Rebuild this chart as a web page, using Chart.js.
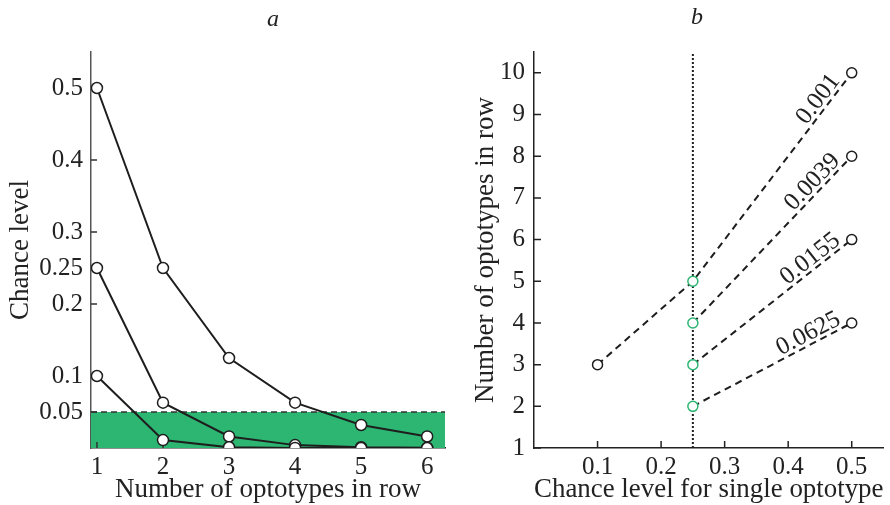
<!DOCTYPE html>
<html lang="en">
<head>
<meta charset="UTF-8" />
<script src="https://cdn.jsdelivr.net/npm/chart.js@4"></script>
<style>
  body { margin: 0; background: #fff; }
  .painel { position: absolute; top: 0; height: 505px; }
  #pa { left: 0; width: 460px; }
  #pb { left: 460px; width: 430px; }
</style>
</head>
<body>
<div class="painel" id="pa"><canvas id="grafA"></canvas></div>
<div class="painel" id="pb"><canvas id="grafB"></canvas></div>
<script>
// ---- painel a: chance level x number of optotypes ----
const optotipos = [1, 2, 3, 4, 5, 6];
const chance05 = [0.5, 0.25, 0.125, 0.063, 0.032, 0.016];
const chance025 = [0.25, 0.063, 0.016, 0.004, 0.001, 0.0002];
const chance01 = [0.1, 0.011, 0.001, 0.0001, 0, 0];
const limiar = 0.05;
const ticksAX = [1, 2, 3, 4, 5, 6];
const ticksAY = [0.05, 0.1, 0.2, 0.25, 0.3, 0.4, 0.5];
const limitesAX = [0.91, 6.27];
const limitesAY = [0, 0.55];

// ---- painel b: number of optotypes x chance level ----
const xs0001 = [0.1, 0.25, 0.5];
const ys0001 = [3, 5, 10];
const xsPar = [0.25, 0.5];
const ys0039 = [4, 8];
const ys0155 = [3, 6];
const ys0625 = [2, 4];
const rotulosB = ["0.001", "0.0039", "0.0155", "0.0625"];
const chanceUnica = 0.25;
const ticksBX = [0.1, 0.2, 0.3, 0.4, 0.5];
const ticksBY = [1, 2, 3, 4, 5, 6, 7, 8, 9, 10];
const limitesBX = [0, 0.55];
const limitesBY = [1, 10.5];

const verde = "#2db572";
const preto = "#1e1e1e";

Chart.defaults.font.family = "'Liberation Serif', 'Times New Roman', serif";
Chart.defaults.color = "#222";
Chart.defaults.animation = false;

const pares = (xs, ys) => xs.map((x, i) => ({ x: x, y: ys[i] }));

// marcas de eixo para dentro da area do grafico
const marcasInternas = {
  id: "marcasInternas",
  desenha(chart, opts) {
    const { ctx, chartArea } = chart;
    const sx = chart.scales.x, sy = chart.scales.y;
    ctx.save();
    ctx.strokeStyle = opts.cor;
    ctx.lineWidth = 1.5;
    ctx.beginPath();
    sx.ticks.forEach((t) => {
      const p = sx.getPixelForValue(t.value);
      ctx.moveTo(p, chartArea.bottom);
      ctx.lineTo(p, chartArea.bottom - opts.tam);
    });
    sy.ticks.forEach((t) => {
      const p = sy.getPixelForValue(t.value);
      ctx.moveTo(chartArea.left, p);
      ctx.lineTo(chartArea.left + opts.tam, p);
    });
    ctx.stroke();
    ctx.restore();
  },
  afterDatasetDraw(chart, args, opts) {
    if (opts.aposDataset === args.index) this.desenha(chart, opts);
  },
  beforeDatasetsDraw(chart, args, opts) {
    if (opts.aposDataset == null) this.desenha(chart, opts);
  },
};

// letra do painel (a / b)
const letraPainel = {
  id: "letraPainel",
  afterDraw(chart, args, opts) {
    const ctx = chart.ctx;
    ctx.save();
    ctx.font = "italic 24px 'Liberation Serif', serif";
    ctx.fillStyle = "#222";
    ctx.textAlign = "center";
    ctx.textBaseline = "middle";
    ctx.fillText(opts.texto, opts.x, opts.y);
    ctx.restore();
  },
};

// rotulos inclinados ao longo das linhas tracejadas
const rotulosLinhas = {
  id: "rotulosLinhas",
  afterDatasetsDraw(chart) {
    const ctx = chart.ctx;
    chart.data.datasets.forEach((ds, i) => {
      if (!ds.rotulo) return;
      const pts = chart.getDatasetMeta(i).data;
      const a = pts[pts.length - 2], b = pts[pts.length - 1];
      const ang = Math.atan2(b.y - a.y, b.x - a.x);
      const t = 0.95;
      const px = a.x + (b.x - a.x) * t + Math.sin(ang) * 4;
      const py = a.y + (b.y - a.y) * t - Math.cos(ang) * 4;
      ctx.save();
      ctx.translate(px, py);
      ctx.rotate(ang);
      ctx.font = "25px 'Liberation Serif', serif";
      ctx.fillStyle = "#222";
      ctx.textAlign = "right";
      ctx.textBaseline = "alphabetic";
      ctx.fillText(ds.rotulo, 0, 0);
      ctx.restore();
    });
  },
};

function eixo(min, max, lista, largura, titulo, tituloPad, tickPad, cor, ehX) {
  return {
    type: "linear",
    min: min,
    max: max,
    afterBuildTicks: (s) => { s.ticks = lista.map((v) => ({ value: v })); },
    afterFit: (s) => { if (ehX) s.height = largura; else s.width = largura; },
    grid: { display: false, drawTicks: false },
    border: { display: true, color: cor, width: 1.5 },
    ticks: {
      padding: tickPad,
      font: { size: 25 },
      color: "#222",
      callback: (v) => String(v),
    },
    title: {
      display: true,
      text: titulo,
      font: { size: 27 },
      color: "#222",
      padding: tituloPad,
    },
  };
}

const linhaA = (dados) => ({
  data: pares(optotipos, dados),
  showLine: true,
  borderColor: preto,
  borderWidth: 2,
  pointRadius: 5.5,
  pointBorderWidth: 1.5,
  pointBackgroundColor: "#fff",
  pointBorderColor: preto,
  order: 1,
});

new Chart(document.getElementById("grafA"), {
  type: "scatter",
  data: {
    datasets: [
      {
        data: pares(limitesAX, [limiar, limiar]),
        showLine: true,
        fill: "origin",
        backgroundColor: verde,
        borderColor: "#333",
        borderWidth: 1.5,
        borderDash: [6, 4],
        pointRadius: 0,
        order: 10,
      },
      linhaA(chance01),
      linhaA(chance025),
      linhaA(chance05),
    ],
  },
  options: {
    responsive: true,
    maintainAspectRatio: false,
    layout: { padding: { left: 0, right: 15, top: 52, bottom: 0 } },
    plugins: {
      legend: { display: false },
      tooltip: { enabled: false },
      marcasInternas: { cor: "#333", tam: 6, aposDataset: 0 },
      letraPainel: { texto: "a", x: 273, y: 20 },
    },
    scales: {
      x: eixo(limitesAX[0], limitesAX[1], ticksAX, 57, "Number of optotypes in row", { top: 0, bottom: -1 }, 4, "#222", true),
      y: eixo(limitesAY[0], limitesAY[1], ticksAY, 91, "Chance level", { top: 5, bottom: 0 }, 8, "#555", false),
    },
  },
  plugins: [marcasInternas, letraPainel],
});

const linhaB = (xs, ys, rotulo) => ({
  data: pares(xs, ys),
  rotulo: rotulo,
  showLine: true,
  borderColor: preto,
  borderWidth: 2,
  borderDash: [7, 5],
  pointRadius: 5,
  pointBorderWidth: 1.5,
  pointBackgroundColor: "#fff",
  pointBorderColor: xs.map((x) => (x === chanceUnica ? verde : preto)),
  order: 1,
});

new Chart(document.getElementById("grafB"), {
  type: "scatter",
  data: {
    datasets: [
      {
        data: pares([chanceUnica, chanceUnica], limitesBY),
        showLine: true,
        borderColor: preto,
        borderWidth: 2,
        borderDash: [2, 2],
        pointRadius: 0,
        order: 5,
      },
      linhaB(xs0001, ys0001, rotulosB[0]),
      linhaB(xsPar, ys0039, rotulosB[1]),
      linhaB(xsPar, ys0155, rotulosB[2]),
      linhaB(xsPar, ys0625, rotulosB[3]),
    ],
  },
  options: {
    responsive: true,
    maintainAspectRatio: false,
    layout: { padding: { left: 0, right: 2, top: 52, bottom: 0 } },
    plugins: {
      legend: { display: false },
      tooltip: { enabled: false },
      marcasInternas: { cor: "#222", tam: 7 },
      letraPainel: { texto: "b", x: 237, y: 18 },
    },
    scales: {
      x: eixo(limitesBX[0], limitesBX[1], ticksBX, 57, "Chance level for single optotype", { top: 0, bottom: -1 }, 4, "#222", true),
      y: eixo(limitesBY[0], limitesBY[1], ticksBY, 74, "Number of optotypes in row", { top: 10, bottom: 0 }, 9, "#222", false),
    },
  },
  plugins: [marcasInternas, letraPainel, rotulosLinhas],
});
</script>
</body>
</html>
